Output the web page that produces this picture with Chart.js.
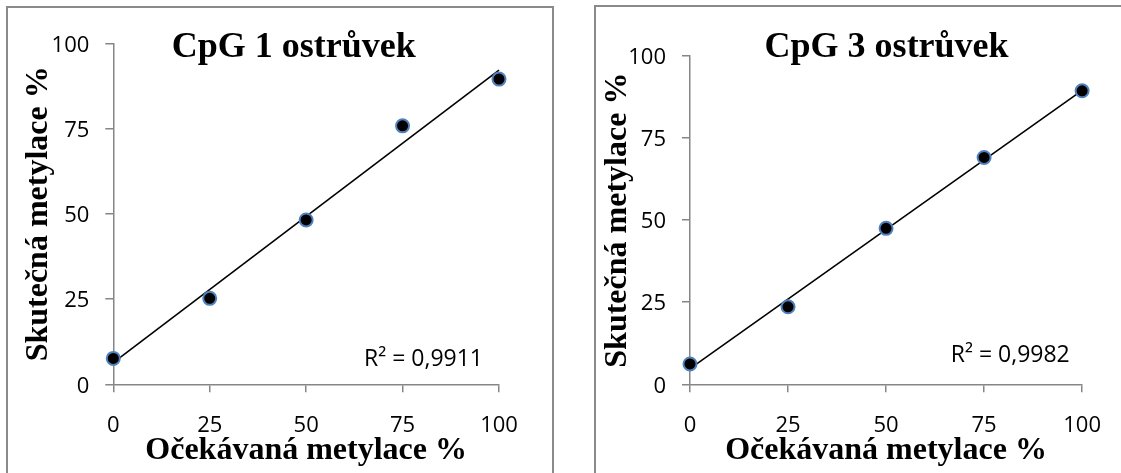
<!DOCTYPE html>
<html>
<head>
<meta charset="utf-8">
<script src="https://cdn.jsdelivr.net/npm/chart.js@4/dist/chart.umd.min.js"></script>
<style>
  html, body { margin: 0; padding: 0; background: #fff; }
  body { position: relative; width: 1121px; height: 473px; overflow: hidden; }
  .frame { position: absolute; border: 2px solid #8a8a8a; box-sizing: border-box; }
  #frame1 { left: 6px; top: 6px; width: 548px; height: 520px; }
  #frame2 { left: 594px; top: 5px; width: 560px; height: 520px; }
  canvas { position: absolute; top: 0; }
  #chart1 { left: 0; }
  #chart2 { left: 560px; }
</style>
</head>
<body>
<div class="frame" id="frame1"></div>
<div class="frame" id="frame2"></div>
<canvas id="chart1" width="560" height="473"></canvas>
<canvas id="chart2" width="561" height="473"></canvas>
<script>
// Expected methylation of the standards (x) and measured methylation (y), in %
const expectedMethylation = [0, 25, 50, 75, 100];
const cpg1Measured = [7.6, 25.2, 48.2, 75.8, 89.5];
const cpg3Measured = [6.2, 23.6, 47.5, 69.1, 89.4];
const axisTicks = [0, 25, 50, 75, 100];

const panelTitles = ['CpG 1 ostrůvek', 'CpG 3 ostrůvek'];
const r2Labels = ['R² = 0,9911', 'R² = 0,9982'];
const xAxisTitle = 'Očekávaná metylace %';
const yAxisTitle = 'Skutečná metylace %';

const AXIS_GREY = '#868686';
const TICK_FONT = { family: "'Open Sans', sans-serif", size: 22 };
const SERIF_BOLD = (size) => ({ family: "'Liberation Serif', 'Times New Roman', serif", size, weight: 'bold', lineHeight: 1.2 });

// Least-squares line through the measured points
function linearFit(xs, ys) {
  const n = xs.length;
  const mx = xs.reduce((a, b) => a + b, 0) / n;
  const my = ys.reduce((a, b) => a + b, 0) / n;
  let sxy = 0, sxx = 0;
  for (let i = 0; i < n; i++) { sxy += (xs[i] - mx) * (ys[i] - my); sxx += (xs[i] - mx) ** 2; }
  const slope = sxy / sxx;
  return { slope, intercept: my - slope * mx };
}

// Panel heading and the R² note of the trend line
const panelText = {
  id: 'panelText',
  afterDraw(chart, args, o) {
    const { ctx, scales: { x, y } } = chart;
    ctx.save();
    ctx.fillStyle = '#000';
    ctx.textAlign = 'left';
    ctx.textBaseline = 'alphabetic';
    ctx.font = "bold 36px 'Liberation Serif', 'Times New Roman', serif";
    ctx.fillText(o.title, o.titleX, o.titleY);
    ctx.font = "23px 'Open Sans', sans-serif";
    ctx.fillText(o.r2, x.getPixelForValue(o.r2At[0]), y.getPixelForValue(o.r2At[1]));
    ctx.restore();
  }
};

function buildChart(canvasId, measured, g) {
  const fit = linearFit(expectedMethylation, measured);
  const xMin = axisTicks[0], xMax = axisTicks[axisTicks.length - 1];
  const points = expectedMethylation.map((x, i) => ({ x, y: measured[i] }));
  const trend = [xMin, xMax].map(x => ({ x, y: fit.intercept + fit.slope * x }));

  return new Chart(document.getElementById(canvasId), {
    type: 'scatter',
    data: {
      datasets: [
        {
          data: points,
          showLine: false,
          pointRadius: 6.5,
          pointBorderWidth: 2,
          pointBackgroundColor: '#000',
          pointBorderColor: '#4f81bd',
          clip: false
        },
        {
          data: trend,
          showLine: true,
          borderColor: '#000',
          borderWidth: 1.6,
          pointRadius: 0,
          clip: false
        }
      ]
    },
    options: {
      responsive: false,
      animation: false,
      events: [],
      layout: { padding: g.padding },
      plugins: {
        legend: { display: false },
        tooltip: { enabled: false },
        panelText: { title: g.title, titleX: g.titleX, titleY: g.titleY, r2: g.r2, r2At: g.r2At }
      },
      scales: {
        x: {
          type: 'linear',
          min: xMin, max: xMax,
          afterBuildTicks(s) { s.ticks = axisTicks.map(v => ({ value: v })); },
          afterFit(s) { s.height = g.xHeight; },
          ticks: { padding: 20, color: '#000', font: TICK_FONT },
          grid: { drawOnChartArea: false, drawTicks: true, tickLength: 8, color: AXIS_GREY, lineWidth: 1.5 },
          border: { display: true, color: AXIS_GREY, width: 1.5 },
          title: { display: true, text: xAxisTitle, color: '#000', font: SERIF_BOLD(32), padding: { top: 0, bottom: 0 } }
        },
        y: {
          type: 'linear',
          min: axisTicks[0], max: axisTicks[axisTicks.length - 1],
          afterBuildTicks(s) { s.ticks = axisTicks.map(v => ({ value: v })); },
          afterFit(s) { s.width = g.yWidth; },
          ticks: { padding: 16, labelOffset: 2, color: '#000', font: TICK_FONT },
          grid: { drawOnChartArea: false, drawTicks: true, tickLength: 8, color: AXIS_GREY, lineWidth: 1.5 },
          border: { display: true, color: AXIS_GREY, width: 1.5 },
          title: { display: true, text: yAxisTitle, color: '#000', font: SERIF_BOLD(32), padding: { top: g.yTitlePad, bottom: 0 } }
        }
      }
    },
    plugins: [panelText]
  });
}

function drawAll() {
  buildChart('chart1', cpg1Measured, {
    padding: { left: 0, top: 43.3, right: 61, bottom: 2.6 },
    yWidth: 113.3, xHeight: 86.1, yTitlePad: 20,
    title: panelTitles[0], titleX: 171.7, titleY: 56.7,
    r2: r2Labels[0], r2At: [65.0, 5.45]
  });
  buildChart('chart2', cpg3Measured, {
    padding: { left: 0, top: 56, right: 36, bottom: 2.6 },
    yWidth: 130, xHeight: 86.1, yTitlePad: 39,
    title: panelTitles[1], titleX: 204.6, titleY: 56.7,
    r2: r2Labels[1], r2At: [66.5, 6.9]
  });
}

const fontLoads = [
  "bold 36px 'Liberation Serif'",
  "22px 'Open Sans'"
].map(f => document.fonts.load(f).catch(() => null));
Promise.all(fontLoads).then(drawAll, drawAll);
</script>
</body>
</html>
